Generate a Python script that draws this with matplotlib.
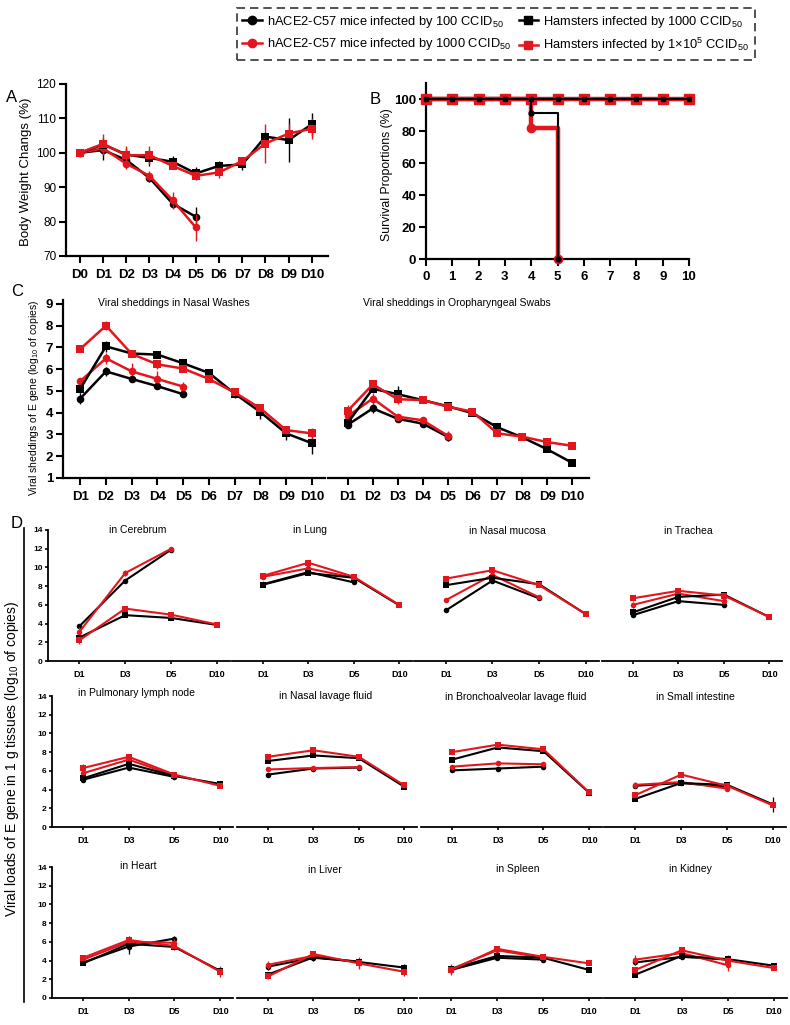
import matplotlib
matplotlib.use('Agg')
import matplotlib.pyplot as plt
from matplotlib.lines import Line2D

plt.rcParams['font.family'] = ['Liberation Sans', 'DejaVu Sans']
plt.rcParams['mathtext.fontset'] = 'custom'
plt.rcParams['mathtext.rm'] = 'Liberation Sans'
plt.rcParams['mathtext.it'] = 'Liberation Sans:italic'
plt.rcParams['mathtext.bf'] = 'Liberation Sans:bold'

W, H = 790, 1025
RED = '#e3161d'
BLK = '#000000'

# ---------------- data ----------------
series_labels = ['hACE2-C57 mice infected by 100 CCID$_{50}$',
                 'hACE2-C57 mice infected by 1000 CCID$_{50}$',
                 'Hamsters infected by 1000 CCID$_{50}$',
                 'Hamsters infected by 1×10$^{5}$ CCID$_{50}$']

# Panel A: body weight (%)
bw_days = ['D0', 'D1', 'D2', 'D3', 'D4', 'D5', 'D6', 'D7', 'D8', 'D9', 'D10']
bw_mice100 = [100, 100.8, 97.9, 92.7, 85.2, 81.4]
bw_mice100_err = [0.4, 2.8, 1.5, 1.2, 1.2, 2.9]
bw_mice1000 = [100, 101.3, 96.8, 93.3, 86.2, 78.3]
bw_mice1000_err = [0.4, 2.0, 1.4, 1.5, 2.5, 4.0]
bw_ham1000 = [100, 102.4, 99.5, 98.5, 97.4, 94.0, 96.2, 96.6, 104.7, 103.7, 108.3]
bw_ham1000_err = [0.4, 2.0, 2.0, 2.4, 1.8, 1.8, 1.5, 1.5, 1.2, 6.3, 3.3]
bw_ham1e5 = [100, 102.6, 99.3, 99.3, 96.2, 93.3, 94.3, 97.6, 102.7, 105.6, 107.0]
bw_ham1e5_err = [0.4, 3.0, 2.6, 2.6, 1.0, 1.0, 1.5, 1.0, 5.6, 2.8, 3.0]

# Panel B: survival (%)
surv_days = [0, 1, 2, 3, 4, 5, 6, 7, 8, 9, 10]
surv_ham1000 = [100, 100, 100, 100, 100, 100, 100, 100, 100, 100, 100]
surv_ham1e5 = [100, 100, 100, 100, 100, 100, 100, 100, 100, 100, 100]
surv_mice100_t = [0, 4, 5]
surv_mice100 = [100, 91, 0]
surv_mice1000_t = [0, 4, 5]
surv_mice1000 = [100, 82, 0]

# Panel C: viral shedding (log10 copies)
shed_days = ['D1', 'D2', 'D3', 'D4', 'D5', 'D6', 'D7', 'D8', 'D9', 'D10']
nw_mice100 = [4.65, 5.9, 5.55, 5.22, 4.85]
nw_mice100_err = [0.25, 0.2, 0.15, 0.1, 0.1]
nw_mice1000 = [5.45, 6.5, 5.9, 5.55, 5.2]
nw_mice1000_err = [0.15, 0.25, 0.4, 0.35, 0.2]
nw_ham1000 = [5.1, 7.05, 6.72, 6.67, 6.27, 5.83, 4.88, 4.03, 3.05, 2.6]
nw_ham1000_err = [0.2, 0.25, 0.1, 0.1, 0.1, 0.15, 0.2, 0.3, 0.3, 0.5]
nw_ham1e5 = [6.93, 8.0, 6.7, 6.22, 6.03, 5.55, 4.93, 4.2, 3.2, 3.05]
nw_ham1e5_err = [0.1, 0.2, 0.1, 0.2, 0.1, 0.15, 0.1, 0.1, 0.15, 0.25]

op_mice100 = [3.45, 4.2, 3.72, 3.5, 2.9]
op_mice100_err = [0.1, 0.2, 0.1, 0.15, 0.2]
op_mice1000 = [3.85, 4.65, 3.82, 3.65, 2.95]
op_mice1000_err = [0.2, 0.25, 0.1, 0.15, 0.2]
op_ham1000 = [3.55, 5.1, 4.85, 4.58, 4.3, 3.98, 3.33, 2.87, 2.32, 1.7]
op_ham1000_err = [0.1, 0.15, 0.4, 0.1, 0.15, 0.15, 0.1, 0.1, 0.1, 0.15]
op_ham1e5 = [4.1, 5.3, 4.62, 4.58, 4.28, 4.05, 3.05, 2.9, 2.65, 2.48]
op_ham1e5_err = [0.25, 0.1, 0.2, 0.1, 0.1, 0.1, 0.1, 0.1, 0.15, 0.15]

# Panel D: viral loads in tissues (log10 copies)
tissue_names = ['in Cerebrum', 'in Lung', 'in Nasal mucosa', 'in Trachea',
                'in Pulmonary lymph node', 'in Nasal lavage fluid',
                'in Bronchoalveolar lavage fluid', 'in Small intestine',
                'in Heart', 'in Liver', 'in Spleen', 'in Kidney']
tissue_days = ['D1', 'D3', 'D5', 'D10']
load_mice100 = [[3.7, 8.6, 11.9], [8.2, 9.5, 8.4], [5.4, 8.6, 6.7], [4.9, 6.4, 6.0],
                [5.05, 6.35, 5.35], [5.6, 6.25, 6.35], [6.05, 6.25, 6.45], [4.4, 4.7, 4.3],
                [3.8, 5.5, 6.35], [3.35, 4.3, 3.9], [3.0, 4.3, 4.1], [3.8, 4.4, 4.1]]
load_mice100_err = [[0.2, 0.2, 0.2], [0.15, 0.2, 0.2], [0.15, 0.2, 0.2], [0.2, 0.2, 0.2],
                    [0.2, 0.2, 0.2], [0.15, 0.15, 0.15], [0.15, 0.15, 0.2], [0.2, 0.2, 0.2],
                    [0.2, 0.8, 0.25], [0.4, 0.3, 0.3], [0.3, 0.2, 0.3], [0.3, 0.2, 0.2]]
load_mice1000 = [[3.1, 9.4, 12.0], [9.0, 9.9, 8.9], [6.5, 9.2, 6.8], [6.0, 7.2, 6.4],
                 [5.75, 7.2, 5.5], [6.15, 6.3, 6.4], [6.45, 6.8, 6.7], [4.5, 4.8, 4.1],
                 [4.1, 6.0, 5.9], [3.55, 4.5, 3.8], [3.1, 5.1, 4.3], [4.1, 4.8, 3.5]]
load_mice1000_err = [[0.5, 0.3, 0.2], [0.2, 0.2, 0.2], [0.2, 0.2, 0.2], [0.3, 0.2, 0.2],
                     [0.3, 0.2, 0.2], [0.2, 0.2, 0.2], [0.2, 0.2, 0.2], [0.3, 0.3, 0.3],
                     [0.2, 0.3, 0.4], [0.4, 0.3, 0.6], [0.5, 0.2, 0.3], [0.5, 0.3, 0.6]]
load_ham1000 = [[2.5, 4.9, 4.6, 3.85], [8.15, 9.4, 8.9, 5.95], [8.1, 8.9, 8.2, 5.0],
                [5.2, 6.85, 7.1, 4.7], [5.2, 6.75, 5.45, 4.6], [7.05, 7.65, 7.35, 4.3],
                [7.2, 8.5, 8.1, 3.65], [3.0, 4.7, 4.5, 2.4], [3.7, 5.8, 5.45, 2.9],
                [2.5, 4.35, 3.85, 3.25], [3.1, 4.5, 4.3, 3.0], [2.5, 4.5, 4.15, 3.45]]
load_ham1000_err = [[0.3, 0.2, 0.2, 0.2], [0.15, 0.2, 0.2, 0.15], [0.15, 0.2, 0.15, 0.15],
                    [0.2, 0.2, 0.2, 0.15], [0.2, 0.2, 0.2, 0.15], [0.15, 0.15, 0.15, 0.15],
                    [0.15, 0.15, 0.15, 0.15], [0.2, 0.2, 0.2, 0.8], [0.2, 0.8, 0.2, 0.4],
                    [0.3, 0.3, 0.3, 0.4], [0.2, 0.2, 0.3, 0.2], [0.3, 0.2, 0.2, 0.2]]
load_ham1e5 = [[2.2, 5.6, 4.95, 3.9], [9.1, 10.5, 9.0, 6.0], [8.8, 9.7, 8.1, 5.0],
               [6.7, 7.5, 7.0, 4.7], [6.3, 7.5, 5.6, 4.4], [7.5, 8.2, 7.5, 4.45],
               [8.0, 8.8, 8.3, 3.7], [3.4, 5.6, 4.4, 2.3], [4.3, 6.2, 5.55, 2.8],
               [2.3, 4.7, 3.7, 2.8], [3.0, 5.25, 4.4, 3.7], [3.0, 5.1, 4.0, 3.2]]
load_ham1e5_err = [[0.4, 0.3, 0.2, 0.2], [0.15, 0.2, 0.2, 0.15], [0.2, 0.2, 0.15, 0.15],
                   [0.3, 0.2, 0.2, 0.15], [0.4, 0.2, 0.2, 0.15], [0.15, 0.2, 0.15, 0.15],
                   [0.15, 0.15, 0.15, 0.15], [0.3, 0.3, 0.2, 0.3], [0.2, 0.3, 0.4, 0.6],
                   [0.3, 0.3, 0.6, 0.4], [0.5, 0.2, 0.2, 0.2], [0.3, 0.3, 0.6, 0.2]]

# ---------------- figure ----------------
fig = plt.figure(figsize=(W / 100, H / 100), dpi=100)

STY = [dict(color=BLK, marker='o'), dict(color=RED, marker='o'),
       dict(color=BLK, marker='s'), dict(color=RED, marker='s')]


def add_ax(l, t, r, b):
    return fig.add_axes([l / W, 1 - b / H, (r - l) / W, (b - t) / H])


def clean(ax, lw=1.6, left=True):
    ax.spines['top'].set_visible(False)
    ax.spines['right'].set_visible(False)
    ax.spines['left'].set_visible(left)
    ax.spines['left'].set_linewidth(lw)
    ax.spines['bottom'].set_linewidth(lw)
    ax.patch.set_alpha(0)


def draw(ax, x, y, e, k, ms, lw, cap=2.2, elw=1.0):
    st = STY[k]
    ax.errorbar(x, y, yerr=e, color=st['color'], marker=st['marker'], ms=ms,
                lw=lw, mew=0, capsize=cap, elinewidth=elw, capthick=elw,
                clip_on=False, zorder=3 + k * 0.1)


def ftext(x, y, s, **kw):
    fig.text(x / W, 1 - y / H, s, **kw)


# ---- Panel A ----
axA = add_ax(66, 84, 328, 256)
clean(axA)
xa = list(range(len(bw_days)))
draw(axA, xa, bw_ham1000, bw_ham1000_err, 2, 5.5, 1.8)
draw(axA, xa, bw_ham1e5, bw_ham1e5_err, 3, 5.5, 1.8)
draw(axA, xa[:len(bw_mice100)], bw_mice100, bw_mice100_err, 0, 5.5, 1.8)
draw(axA, xa[:len(bw_mice1000)], bw_mice1000, bw_mice1000_err, 1, 5.5, 1.8)
axA.set_xlim(-0.6, 10.7)
axA.set_ylim(70, 120)
axA.set_yticks([70, 80, 90, 100, 110, 120])
axA.set_xticks(xa)
axA.set_xticklabels(bw_days, fontweight='bold', fontsize=9.5)
axA.tick_params(direction='out', length=5, width=1.5)
axA.tick_params(axis='x', pad=4.5)
axA.tick_params(axis='y', labelsize=8.5, pad=2)
ftext(26, 172, 'Body Weight Changs (%)', rotation=90, ha='center', va='center', fontsize=9.5)

# ---- Panel B ----
axB = add_ax(426, 83, 689, 259)
clean(axB)
axB.step(surv_mice1000_t, surv_mice1000, where='post', color=RED, lw=3.2, zorder=3, clip_on=False)
axB.plot(surv_days, surv_ham1e5, color=RED, lw=3.2, marker='s', ms=6.5, zorder=3, clip_on=False)
axB.plot(surv_mice1000_t[1:], surv_mice1000[1:], 'o', color=RED, ms=6, zorder=3, clip_on=False)
axB.step(surv_mice100_t, surv_mice100, where='post', color=BLK, lw=1.5, zorder=4, clip_on=False)
axB.plot(surv_days, surv_ham1000, color=BLK, lw=1.5, marker='s', ms=3.5, zorder=4, clip_on=False)
axB.plot(surv_mice100_t[1:], surv_mice100[1:], 'o', color=BLK, ms=3.5, zorder=4, clip_on=False)
axB.set_xlim(0, 10)
axB.set_ylim(0, 110)
axB.set_xticks(surv_days)
axB.set_yticks([0, 20, 40, 60, 80, 100])
axB.tick_params(direction='out', length=5, width=1.5, labelsize=9.5, pad=4)
for t in axB.get_xticklabels() + axB.get_yticklabels():
    t.set_fontweight('bold')
axB.tick_params(axis='y', pad=2)
ftext(387, 175, 'Survival Proportions (%)', rotation=90, ha='center', va='center', fontsize=8.8)

# ---- Panel C ----
axC1 = add_ax(63, 300, 325, 478)
axC2 = add_ax(328, 300, 589, 478)
clean(axC1)
clean(axC2, left=False)
xc = list(range(1, len(shed_days) + 1))
for ax, m100, m100e, m1k, m1ke, h1k, h1ke, h5, h5e in [
        (axC1, nw_mice100, nw_mice100_err, nw_mice1000, nw_mice1000_err,
         nw_ham1000, nw_ham1000_err, nw_ham1e5, nw_ham1e5_err),
        (axC2, op_mice100, op_mice100_err, op_mice1000, op_mice1000_err,
         op_ham1000, op_ham1000_err, op_ham1e5, op_ham1e5_err)]:
    draw(ax, xc, h5, h5e, 3, 5.5, 1.8)
    draw(ax, xc, h1k, h1ke, 2, 5.5, 1.8)
    draw(ax, xc[:len(m1k)], m1k, m1ke, 1, 5.5, 1.8)
    draw(ax, xc[:len(m100)], m100, m100e, 0, 5.5, 1.8)
    ax.set_ylim(1, 9.18)
    ax.set_xticks(xc)
    ax.set_xticklabels(shed_days, fontweight='bold', fontsize=9.5)
    ax.tick_params(direction='out', length=5, width=1.5, pad=4)
axC1.set_xlim(0.33, 10.51)
axC2.set_xlim(0.2, 10.68)
axC1.set_yticks([1, 2, 3, 4, 5, 6, 7, 8, 9])
for t in axC1.get_yticklabels():
    t.set_fontweight('bold')
axC1.tick_params(axis='y', labelsize=9.5, pad=2)
axC2.set_yticks([])
ftext(174, 303, 'Viral sheddings in Nasal Washes', ha='center', va='center', fontsize=7.5)
ftext(457, 303, 'Viral sheddings in Oropharyngeal Swabs', ha='center', va='center', fontsize=7.5)
ftext(34, 398, 'Viral sheddings of E gene (log$_{10}$ of copies)', rotation=90,
      ha='center', va='center', fontsize=7.5)

# ---- Panel D ----
rows_tb = [(530, 661), (696, 827), (867, 998)]
cols_lr = [[(48, 230), (232, 412), (414, 599), (602, 782)],
           [(52, 233), (237, 417), (421, 602), (604, 786)],
           [(52, 233), (237, 417), (420, 602), (604, 787)]]
title_xy = [(138, 530), (310, 530), (507, 531), (688, 531),
            (136, 693), (326, 696), (516, 697), (695, 697),
            (138, 866), (325, 870), (518, 869), (690, 869)]
xd = list(range(len(tissue_days)))
for i, name in enumerate(tissue_names):
    r, c = divmod(i, 4)
    t, b = rows_tb[r]
    l, rr = cols_lr[r][c]
    ax = add_ax(l, t, rr, b)
    clean(ax, lw=1.3, left=(c == 0))
    draw(ax, xd, load_ham1000[i], load_ham1000_err[i], 2, 4, 1.5, cap=1.8, elw=0.9)
    draw(ax, xd, load_ham1e5[i], load_ham1e5_err[i], 3, 4, 1.5, cap=1.8, elw=0.9)
    draw(ax, xd[:3], load_mice100[i], load_mice100_err[i], 0, 4, 1.5, cap=1.8, elw=0.9)
    draw(ax, xd[:3], load_mice1000[i], load_mice1000_err[i], 1, 4, 1.5, cap=1.8, elw=0.9)
    ax.set_xlim(-0.68, 3.28)
    ax.set_ylim(0, 14)
    ax.set_xticks(xd)
    ax.set_xticklabels(tissue_days, fontweight='bold', fontsize=6.5)
    ax.tick_params(direction='out', length=2.5, width=1.2, pad=4)
    if c == 0:
        ax.set_yticks([0, 2, 4, 6, 8, 10, 12, 14])
        for tl in ax.get_yticklabels():
            tl.set_fontweight('bold')
        ax.tick_params(axis='y', labelsize=6, pad=1.5)
    else:
        ax.set_yticks([])
    tx, ty = title_xy[i]
    ftext(tx, ty, name, ha='center', va='center', fontsize=7.5)

ftext(12, 759, 'Viral loads of E gene in 1 g tissues (log$_{10}$ of copies)', rotation=90,
      ha='center', va='center', fontsize=10)
fig.add_artist(Line2D([24 / W, 24 / W], [1 - 528 / H, 1 - 1002 / H], color=BLK, lw=1.2))

# ---- panel letters ----
for letter, (x, y) in zip('ABCD', [(12, 97), (375, 100), (17, 292), (17, 523)]):
    ftext(x, y, letter, ha='center', va='center', fontsize=12)

# ---- legend ----
handles = [Line2D([], [], color=STY[k]['color'], marker=STY[k]['marker'], lw=1.8, ms=6)
           for k in range(4)]
leg = fig.legend(handles, series_labels, ncol=2, loc='upper right',
                 bbox_to_anchor=(755 / W, 1 - 8 / H), borderaxespad=0,
                 fontsize=9.3, frameon=True,
                 fancybox=False, edgecolor=BLK, handlelength=1.5, handletextpad=0.4,
                 columnspacing=0.6, borderpad=0.45, labelspacing=0.5)
leg.get_frame().set_linestyle((0, (5, 3)))
leg.get_frame().set_linewidth(1.2)

fig.savefig('out.png', dpi=100)
